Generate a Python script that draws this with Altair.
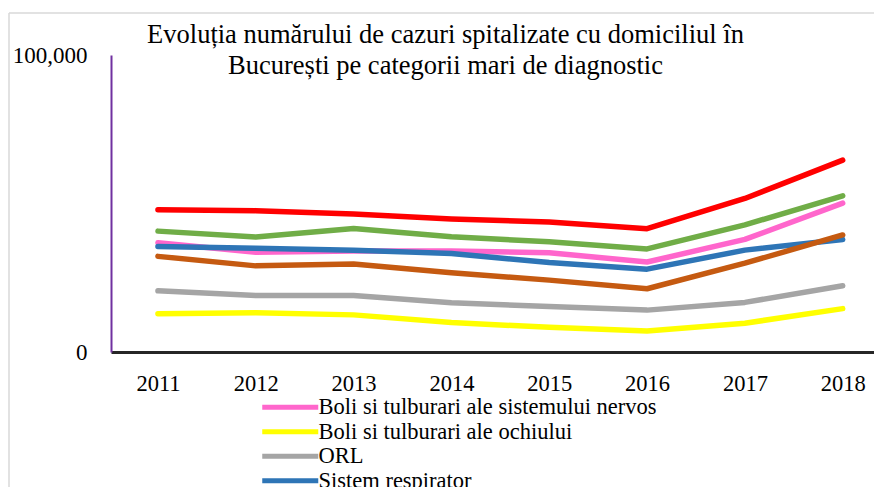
import altair as alt
import pandas as pd

years = ["2011", "2012", "2013", "2014", "2015", "2016", "2017", "2018"]

series_names = [
    "Boli si tulburari ale sistemului nervos",
    "Boli si tulburari ale ochiului",
    "ORL",
    "Sistem respirator",
    "Sistem musculo-scheletal si tesut conjunctiv",
    "Sistem digestiv",
    "Sistem circulator",
]
colors = ["#FF66CC", "#FFFF00", "#A5A5A5", "#2E75B6", "#C55A11", "#70AD47", "#FF0000"]

nervos = [36800, 33600, 34000, 34000, 33400, 30300, 37900, 50100]
ochi = [12900, 13200, 12500, 9900, 8300, 7100, 9700, 14600]
orl = [20600, 19000, 19000, 16600, 15300, 14100, 16700, 22300]
respirator = [35500, 34900, 34300, 33200, 30100, 27900, 34300, 37900]
musculo = [32200, 29000, 29600, 26700, 24200, 21300, 29900, 39400]
digestiv = [40700, 38700, 41600, 38800, 37100, 34700, 42800, 52600]
circulator = [47900, 47600, 46500, 44800, 43800, 41500, 51700, 64600]

values = [nervos, ochi, orl, respirator, musculo, digestiv, circulator]

rows = []
for name, vals in zip(series_names, values):
    for y, v in zip(years, vals):
        rows.append({"An": y, "Categorie": name, "Cazuri": v})
df = pd.DataFrame(rows)

FONT = "Liberation Serif"

lines = alt.Chart(df).mark_line(strokeWidth=5.5, strokeCap="round", strokeJoin="round").encode(
    x=alt.X(
        "An:O",
        sort=years,
        scale=alt.Scale(type="point", padding=0.4, align=0.6),
        axis=alt.Axis(
            title=None, labelAngle=0, labelFontSize=22.5, labelFont=FONT, labelColor="#000000",
            ticks=False, grid=False, domainColor="#262626", domainWidth=3, labelPadding=20,
        ),
    ),
    y=alt.Y(
        "Cazuri:Q",
        scale=alt.Scale(domain=[0, 100000], nice=False),
        axis=alt.Axis(
            title=None, values=[0, 100000], labelExpr="format(datum.value, ',')",
            labelFontSize=23, labelFont=FONT,
            labelColor="#000000", ticks=False, grid=False, domainColor="#7030A0", domainWidth=2,
            labelPadding=24,
        ),
    ),
    color=alt.Color(
        "Categorie:N",
        sort=series_names,
        scale=alt.Scale(domain=series_names, range=colors),
        legend=alt.Legend(
            title=None, orient="none", legendX=148, legendY=341,
            symbolType="M-3.5,0H3.5", symbolSize=256, symbolStrokeWidth=5,
            symbolOffset=20, labelOffset=17,
            labelFontSize=22.5, labelFont=FONT,
            labelColor="#000000", labelLimit=700, rowPadding=1.5,
            values=series_names[:4],
        ),
    ),
    detail="Categorie:N",
)

frame_src = pd.DataFrame({"k": [0]})
frame_top = alt.Chart(frame_src).mark_rule(color="#D9D9D9", strokeWidth=1.5, clip=False).encode(
    x=alt.value(-102), x2=alt.value(790), y=alt.value(-42)
)
frame_left = alt.Chart(frame_src).mark_rule(color="#D9D9D9", strokeWidth=1.5, clip=False).encode(
    x=alt.value(-102), y=alt.value(-42), y2=alt.value(460)
)

chart = alt.layer(frame_top, frame_left, lines).properties(
    width=763,
    height=297,
    background="#FFFFFF",
    title=alt.TitleParams(
        text=["Evoluția numărului de cazuri spitalizate cu domiciliul în",
              "București pe categorii mari de diagnostic"],
        fontSize=26.5, font=FONT, fontWeight="normal", color="#000000",
        anchor="middle", frame="group", dx=-47, offset=-67, lineHeight=31,
    ),
    autosize=alt.AutoSizeParams(type="none"),
    padding={"left": 103, "top": 47, "right": 0, "bottom": 135},
).configure_view(stroke=None)

chart.save("out.html", embed_options={"renderer": "svg", "actions": False})
